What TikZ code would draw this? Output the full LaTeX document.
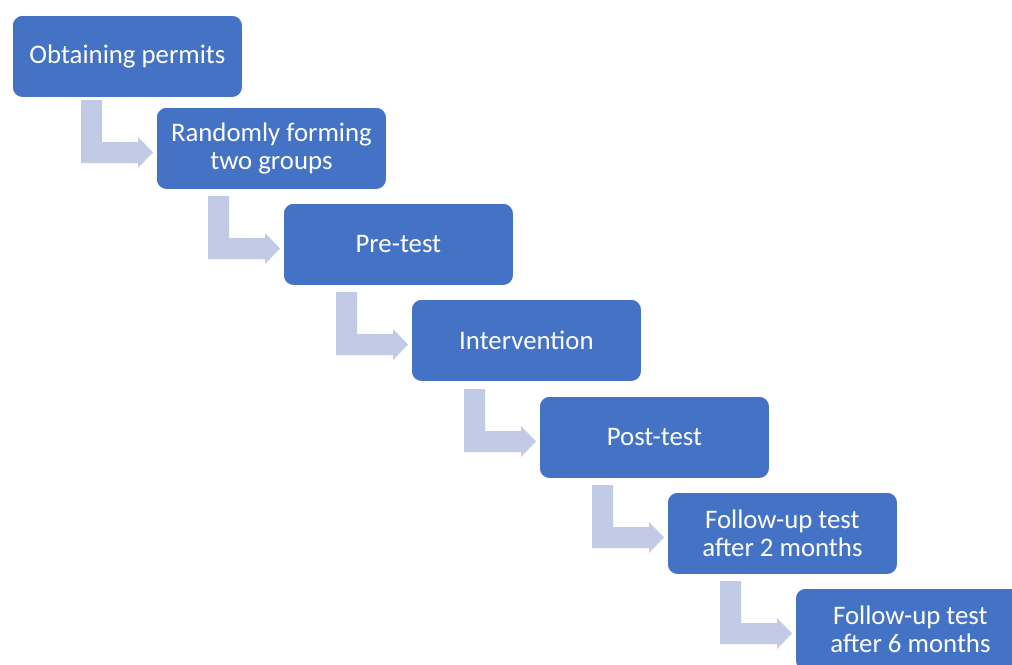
\documentclass[tikz,border=0pt]{standalone}
\usepackage{fontspec}
\setmainfont{Carlito}
\usetikzlibrary{calc}
\definecolor{boxblue}{HTML}{4472C4}
\definecolor{arrowgray}{RGB}{194,203,229}
\tikzset{
  stepbox/.style={rectangle, rounded corners=10pt, fill=boxblue, draw=white, line width=0.8pt,
    minimum width=230pt, minimum height=82pt, anchor=north west, inner sep=0pt,
    text=white, align=center, font=\fontsize{26.8}{28.5}\selectfont},
  bentarrow/.style={fill=arrowgray, draw=none}
}
\newcommand{\bentarrow}[1]{%
  \fill[bentarrow] ($(#1.north west)+(-75,-7)$) -- ($(#1.north west)+(-54,-7)$)
    -- ($(#1.north west)+(-54,35)$) -- ($(#1.north west)+(-18,35)$)
    -- ($(#1.north west)+(-18,30)$) -- ($(#1.north west)+(-3,45.5)$)
    -- ($(#1.north west)+(-18,61)$) -- ($(#1.north west)+(-18,56)$)
    -- ($(#1.north west)+(-75,56)$) -- cycle;}
\begin{document}
\begin{tikzpicture}[x=1pt,y=-1pt]
\useasboundingbox (0,0) rectangle (1012,664);
\clip (0,0) rectangle (1012,664);
\node[stepbox] (b1) at (12,15) {Obtaining permits};
\node[stepbox] (b2) at (156,107) {Randomly forming\\two groups};
\node[stepbox] (b3) at (283,203) {Pre-test};
\node[stepbox] (b4) at (411,299) {Intervention};
\node[stepbox] (b5) at (539,396) {Post-test};
\node[stepbox] (b6) at (667,492) {Follow-up test\\after 2 months};
\node[stepbox] (b7) at (795,588) {Follow-up test\\after 6 months};
\bentarrow{b2}
\bentarrow{b3}
\bentarrow{b4}
\bentarrow{b5}
\bentarrow{b6}
\bentarrow{b7}
\end{tikzpicture}
\end{document}
